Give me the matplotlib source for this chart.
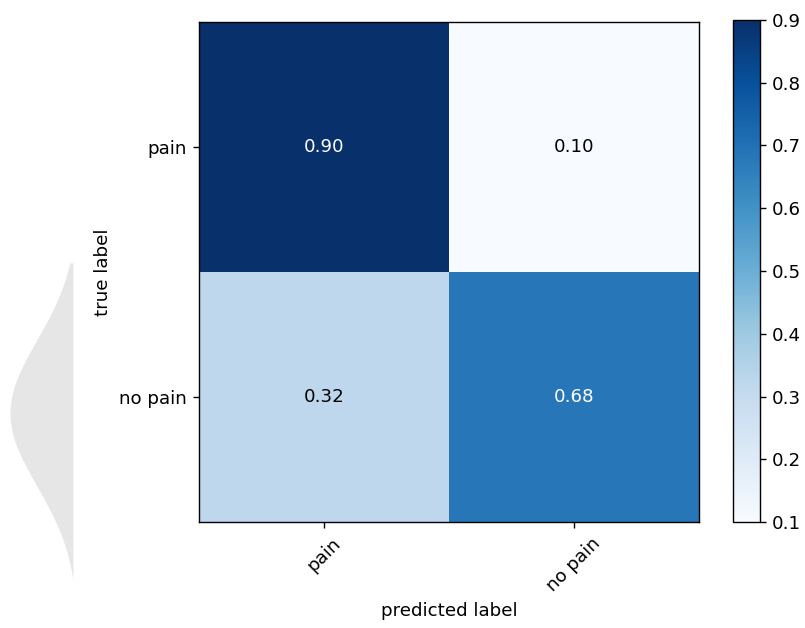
import numpy as np
import matplotlib
matplotlib.use('Agg')
import matplotlib.pyplot as plt

# confusion matrix values (normalized)
classes = ['pain', 'no pain']
cm = np.array([[0.90, 0.10],
               [0.32, 0.68]])


def main():
    plt.rcParams['font.size'] = 10.5
    fig = plt.figure(figsize=(8.05 / 1.25, 6.28 / 1.25), dpi=125)

    # faint grey shape on the left edge of the screenshot
    deco = fig.add_axes([10 / 805, 1 - 580 / 628, 63 / 805, 317 / 628])
    yy = np.linspace(0, 1, 300)
    width = np.exp(-0.5 * ((yy - 0.527) / 0.23) ** 2)
    width = (width - width.min()) / (width.max() - width.min())
    deco.fill_betweenx(yy, 1 - width, 1, color='#e6e6e6', lw=0)
    deco.set_xlim(0, 1)
    deco.set_ylim(0, 1)
    deco.axis('off')

    ax = fig.add_axes([199 / 805, 1 - 522 / 628, 500 / 805, 500 / 628])
    im = ax.imshow(cm, interpolation='nearest', cmap=plt.cm.Blues)
    cax = fig.add_axes([733 / 805, 1 - 522 / 628, 27 / 805, 502 / 628])
    fig.colorbar(im, cax=cax)

    ticks = np.arange(len(classes))
    ax.set_xticks(ticks)
    ax.set_xticklabels(classes, rotation=45)
    ax.set_yticks(ticks)
    ax.set_yticklabels(classes)

    thresh = cm.max() / 2.
    for i in range(cm.shape[0]):
        for j in range(cm.shape[1]):
            ax.text(j, i, format(cm[i, j], '.2f'),
                    ha='center', va='center',
                    color='white' if cm[i, j] > thresh else 'black')

    ax.set_ylabel('true label')
    ax.set_xlabel('predicted label')

    fig.savefig('out.png', dpi=125)


if __name__ == "__main__":
    main()
